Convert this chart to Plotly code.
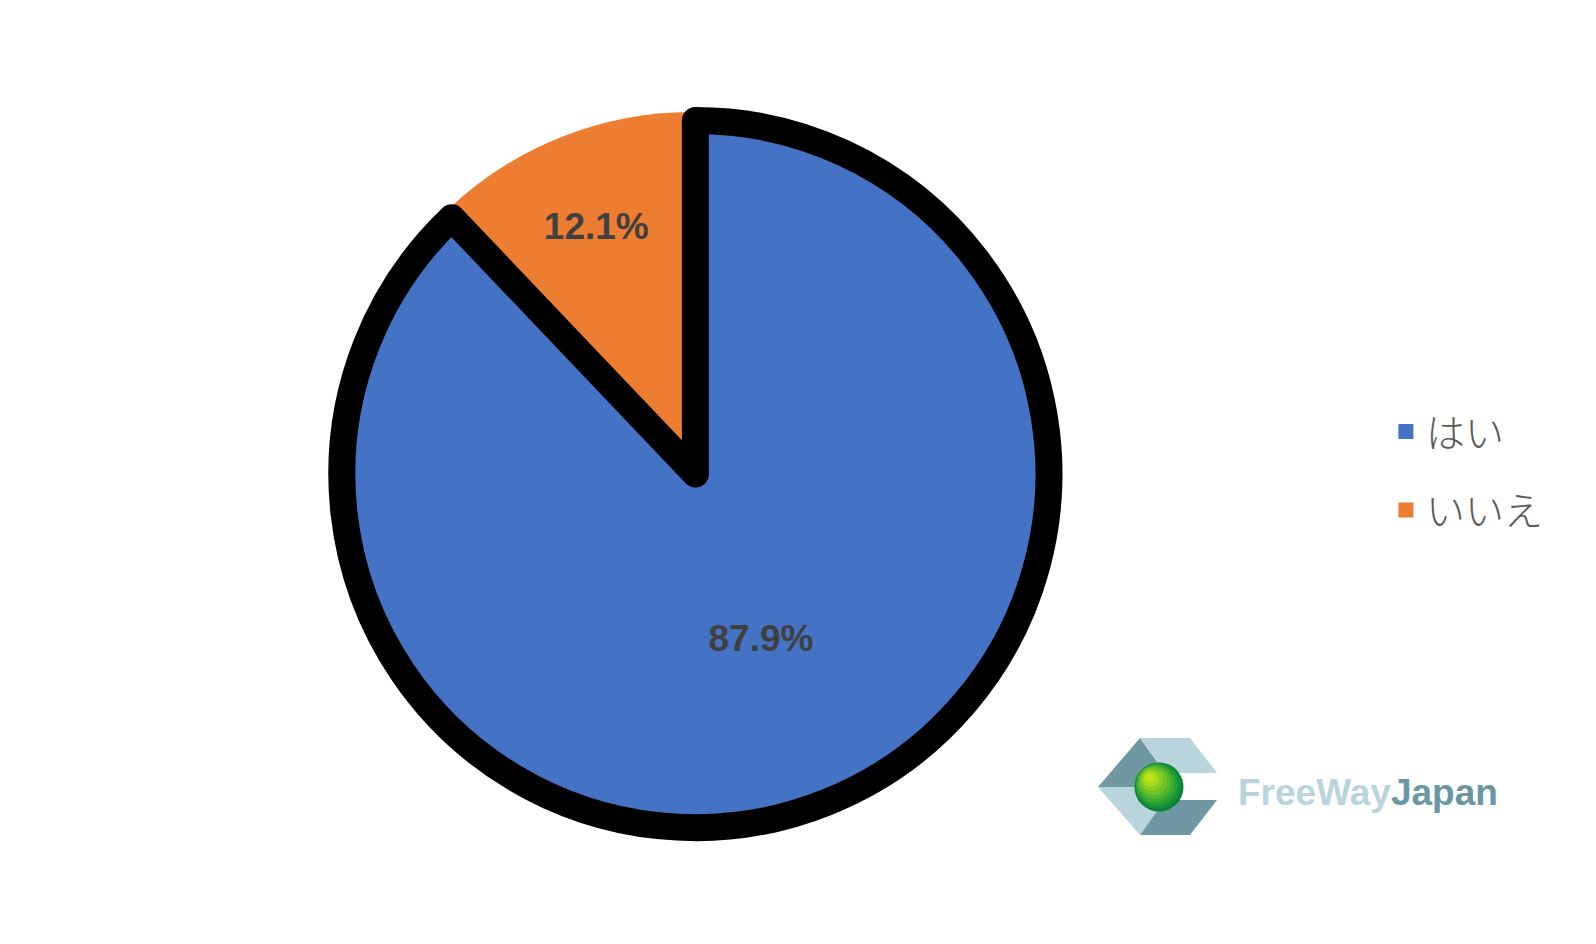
import plotly.graph_objects as go

# ---- data ----
labels = ["はい", "いいえ"]
values = [87.9, 12.1]
colors = ["#4472C4", "#ED7D31"]
line_widths = [27, 0]
pulls = [0.026, 0]

# page body has an 8px margin: figure fits the viewport inside it
W, H = 1580, 928
OFF = 8

# draw order: the outlined "はい" slice must be painted last (on top)
order = [1, 0]
start_rot = -values[1] / sum(values) * 360.0

fig = go.Figure()
fig.add_trace(go.Pie(
    labels=[labels[i] for i in order],
    values=[values[i] for i in order],
    sort=False,
    direction="clockwise",
    rotation=start_rot,
    pull=[pulls[i] for i in order],
    marker=dict(colors=[colors[i] for i in order],
                line=dict(color="#000000", width=[line_widths[i] for i in order])),
    texttemplate="%{percent:.1%}",
    textposition="inside",
    insidetextorientation="horizontal",
    insidetextfont=dict(family="Liberation Sans", size=37, color="#404040", weight="bold"),
    hoverinfo="label+percent",
    showlegend=False,
    domain=dict(x=[0.2033, 0.6625], y=[0.1161, 0.8979]),
))

# legend entries (plain coloured squares, like the original)
for lab, col in zip(labels, colors):
    fig.add_trace(go.Scatter(
        x=[None], y=[None], mode="markers", name=lab, legendgroup=lab,
        marker=dict(symbol="square", size=15, color=col, line=dict(width=0)),
        showlegend=True, hoverinfo="skip",
    ))

# ---- logo (decoration) built from shapes ----
def p(x, y):
    return (x - OFF) / W, 1 - (y - OFF) / H

def path(pts):
    s = ""
    for i, (x, y) in enumerate(pts):
        a, b = p(x, y)
        s += ("M" if i == 0 else "L") + f"{a:.5f},{b:.5f} "
    return s + "Z"

dark = "#6F98A3"
light = "#B8D5DD"
Lp, TL, TR, RT, RB, BL, BR = (1098, 787), (1140, 738), (1190, 738), (1217, 773), (1217, 800), (1140, 835), (1190, 835)
IT, IB, MID = (1165, 773), (1165, 800), (1137, 787)
shapes = [
    dict(type="path", path=path([Lp, TL, IT, MID]), fillcolor=dark, line=dict(width=0)),
    dict(type="path", path=path([TL, TR, RT, IT]), fillcolor=light, line=dict(width=0)),
    dict(type="path", path=path([Lp, MID, IB, BL]), fillcolor=light, line=dict(width=0)),
    dict(type="path", path=path([IB, RB, BR, BL]), fillcolor=dark, line=dict(width=0)),
]
# green sphere: layered circles for a gradient look
layers = [(24.5, "#0C8236", 0.0), (23, "#15903A", 1.0), (21, "#259E36", 2.2), (19, "#3AAA31", 3.4),
          (16.5, "#55B72B", 4.6), (14, "#6FC226", 5.8), (11, "#8ACD21", 7.0), (8, "#A3D81C", 8.0),
          (5, "#BCE21A", 9.0)]
cx0, cy0 = 1159, 787
for r, col, d in layers:
    cx, cy = cx0 - d, cy0 - d
    x0, y0 = p(cx - r, cy - r)
    x1, y1 = p(cx + r, cy + r)
    shapes.append(dict(type="circle", x0=x0, x1=x1, y0=y1, y1=y0, fillcolor=col, line=dict(width=0)))
for s in shapes:
    s["xref"] = "paper"
    s["yref"] = "paper"
    s["layer"] = "above"

lx, ly = p(1236, 792)
fig.update_layout(
    width=W, height=H,
    paper_bgcolor="white", plot_bgcolor="white",
    margin=dict(l=0, r=0, t=0, b=0),
    xaxis=dict(visible=False), yaxis=dict(visible=False),
    showlegend=True,
    legend=dict(
        x=0.8721, y=0.5010, xanchor="left", yanchor="middle",
        font=dict(family="Noto Sans CJK JP", size=39, color="#595959", weight=300),
        bgcolor="rgba(0,0,0,0)", tracegroupgap=25, traceorder="grouped",
    ),
    shapes=shapes,
    annotations=[dict(
        xref="paper", yref="paper", x=lx, y=ly, xanchor="left", yanchor="middle",
        text="<b><span style='color:#B8D5DD'>FreeWay</span><span style='color:#6A97A3'>Japan</span></b>",
        showarrow=False, font=dict(family="Liberation Sans, Arial, sans-serif", size=37),
    )],
)

fig.write_html("out.html")
